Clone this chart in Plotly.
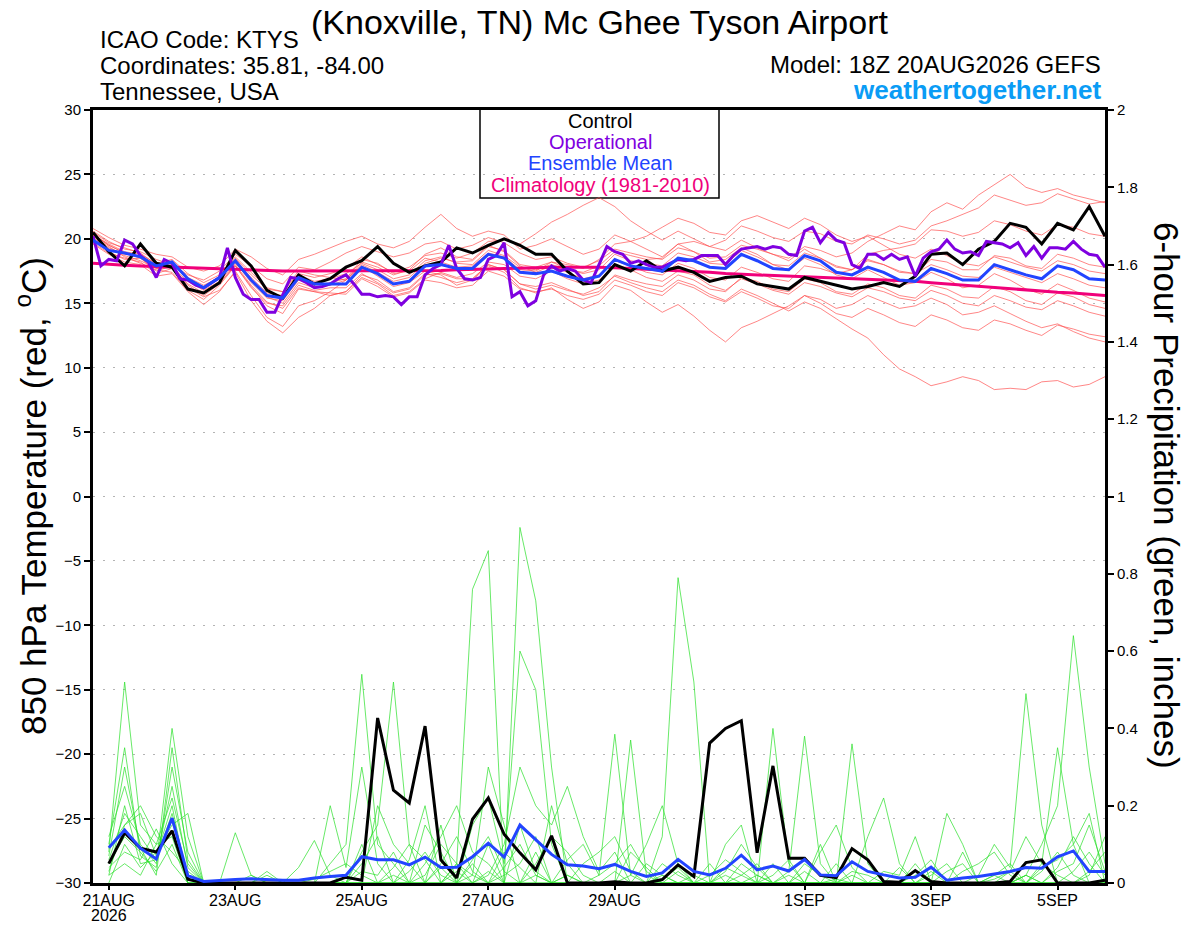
import pandas as pd
import plotly.graph_objects as go

# ---------------- data ----------------
t_times = pd.date_range("2026-08-20 18:00", periods=65, freq="6h")   # temperature valid times
p_times = pd.date_range("2026-08-21 00:00", periods=64, freq="6h")   # 6-h precip valid times
op_times = pd.date_range("2026-08-20 18:00", periods=129, freq="3h")  # operational (3-hourly)

control_t = [20.5, 19.0, 17.9, 19.6, 18.1, 17.8, 16.1, 15.8, 16.6,
             19.1, 17.9, 16.0, 15.4, 17.2, 16.5, 16.9, 17.8,
             18.3, 19.4, 18.1, 17.4, 17.9, 18.2, 19.3, 18.9,
             19.5, 20.0, 19.5, 18.8, 18.8, 17.5, 16.5, 16.6,
             18.0, 17.5, 18.3, 17.5, 17.8, 17.4, 16.7, 17.0,
             17.1, 16.5, 16.3, 16.1, 17.0, 16.7, 16.4, 16.1,
             16.3, 16.6, 16.3, 17.1, 18.8, 18.9, 18.0, 19.2,
             19.8, 21.2, 20.9, 19.6, 21.2, 20.7, 22.5, 20.2]

mean_t = [19.9, 19.1, 18.9, 18.6, 17.9, 18.2, 16.9, 16.2, 17.0,
          18.3, 16.8, 15.6, 15.4, 17.0, 16.5, 16.5, 16.5,
          17.8, 17.3, 16.5, 16.7, 17.9, 18.0, 17.7, 17.7,
          18.8, 18.5, 17.4, 17.3, 17.5, 17.1, 16.8, 17.1,
          18.4, 17.9, 17.7, 17.5, 18.5, 18.3, 17.8, 17.7,
          18.8, 18.3, 17.7, 17.6, 18.7, 18.3, 17.4, 17.2,
          17.8, 17.4, 16.8, 16.7, 17.7, 17.3, 16.8, 16.8,
          18.0, 17.6, 17.2, 16.9, 17.9, 17.6, 16.9, 16.8]

clim_t = [18.1, 18.0, 17.95, 17.9, 17.85, 17.8, 17.75, 17.7, 17.65,
          17.6, 17.6, 17.55, 17.5, 17.5, 17.5, 17.5, 17.5,
          17.5, 17.5, 17.5, 17.5, 17.55, 17.55, 17.6, 17.6,
          17.65, 17.7, 17.7, 17.75, 17.8, 17.8, 17.85, 17.8,
          17.75, 17.7, 17.65, 17.6, 17.5, 17.45, 17.4, 17.3,
          17.25, 17.2, 17.15, 17.1, 17.05, 17.0, 17.0, 16.9,
          16.85, 16.8, 16.75, 16.7, 16.6, 16.5, 16.4, 16.3,
          16.2, 16.1, 16.0, 15.9, 15.85, 15.8, 15.7, 15.6]

oper_t = [20.2, 17.9, 18.4, 18.3, 19.9, 19.6, 18.7, 18.2, 17.0, 18.4,
          18.1, 16.9, 16.8, 16.4, 16.2, 16.6, 17.0, 19.3, 17.0, 15.7,
          15.3, 15.3, 14.3, 14.3, 15.7, 17.0, 16.9, 16.6, 16.2, 16.3,
          16.5, 16.9, 17.2, 16.5, 15.7, 15.7, 15.5, 15.6, 15.5, 14.9,
          15.5, 15.5, 17.2, 17.7, 18.0, 19.5, 17.7, 16.9, 16.8, 17.0,
          18.4, 18.7, 19.7, 15.5, 15.9, 14.8, 15.2, 17.2, 17.9, 17.5,
          17.7, 17.5, 16.8, 16.6, 18.0, 19.4, 19.0, 18.8, 18.1, 18.3,
          18.0, 17.8, 17.8, 18.1, 18.4, 18.3, 18.4, 18.7, 18.7, 18.7,
          18.0, 18.7, 19.2, 19.3, 19.4, 19.2, 19.4, 19.3, 18.8, 18.7,
          20.6, 20.9, 19.7, 20.5, 19.9, 19.7, 18.0, 17.7, 18.8, 18.8,
          18.4, 18.8, 18.4, 18.6, 17.1, 18.5, 19.0, 19.2, 19.9, 19.2,
          18.9, 19.0, 18.7, 19.8, 19.7, 19.6, 19.3, 19.7, 18.7, 19.4,
          18.5, 19.3, 19.3, 19.2, 19.8, 19.2, 18.8, 18.7, 17.8]

member_t1 = [20.6, 19.8, 19.2, 19.0, 18.4, 18.0, 17.2, 16.8, 17.5,
             18.8, 17.9, 16.9, 16.5, 17.8, 17.6, 18.2, 18.9,
             19.4, 19.0, 18.6, 18.9, 19.6, 19.8, 19.2, 19.5,
             20.1, 19.7, 18.9, 18.4, 18.6, 18.1, 17.8, 18.3,
             19.2, 18.9, 18.6, 18.4, 19.3, 19.0, 18.5, 18.6,
             19.5, 19.2, 18.8, 18.5, 19.4, 19.1, 18.6, 18.9,
             19.8, 20.4, 21.0, 20.7, 22.1, 22.8, 22.3, 23.4,
             24.2, 25.0, 24.0, 23.6, 23.9, 23.4, 23.1, 22.8]
member_t2 = [20.2, 19.4, 18.6, 18.1, 17.6, 17.4, 16.0, 15.3, 16.4,
             17.9, 16.3, 14.8, 14.2, 16.1, 15.9, 15.6, 15.9,
             17.2, 16.8, 15.9, 16.2, 17.3, 17.0, 16.6, 16.9,
             18.0, 17.6, 16.5, 16.1, 16.4, 16.0, 15.7, 16.2,
             17.1, 16.6, 16.2, 15.9, 16.8, 16.4, 15.7, 15.2,
             16.1, 15.6, 15.0, 14.4, 15.1, 14.6, 13.8, 13.0,
             12.3, 11.0, 9.9, 9.3, 8.6, 8.9, 9.3, 9.0,
             8.3, 8.4, 8.3, 8.9, 9.0, 8.5, 8.7, 9.3]
member_t3 = [19.6, 18.8, 18.2, 18.0, 17.1, 17.3, 15.9, 14.9, 15.9,
             17.5, 15.6, 13.9, 13.2, 14.8, 15.2, 15.9, 16.8,
             17.9, 17.1, 16.3, 16.6, 17.5, 17.2, 16.4, 16.8,
             17.9, 17.4, 16.2, 15.8, 16.2, 15.3, 14.6, 15.1,
             16.4, 16.0, 15.1, 14.3, 14.9, 14.0, 12.9, 12.0,
             13.1, 13.6, 14.2, 14.8, 15.6, 15.3, 14.6, 14.9,
             15.6, 15.1, 14.6, 14.8, 15.4, 14.9, 14.1, 14.3,
             14.8, 14.2, 13.6, 13.1, 13.4, 12.8, 12.3, 12.0]
member_t4 = [20.8, 20.1, 19.5, 19.2, 18.8, 18.6, 17.8, 17.5, 17.9,
             19.2, 18.6, 17.7, 17.2, 18.4, 18.8, 19.3, 19.8,
             20.2, 19.6, 19.3, 19.8, 20.9, 21.9, 20.8, 20.2,
             20.6, 20.3, 19.2, 19.5, 20.0, 19.4, 18.8, 19.2,
             20.3, 19.8, 19.2, 18.6, 19.6, 19.0, 18.2, 18.4,
             19.3, 18.8, 18.0, 17.6, 18.5, 18.0, 17.2, 16.9,
             17.6, 17.0, 16.4, 16.6, 17.4, 16.9, 16.2, 16.4,
             17.3, 16.8, 16.1, 15.7, 16.5, 16.0, 15.4, 15.1]
member_t5 = [20.3, 19.6, 19.0, 18.8, 18.1, 18.4, 17.3, 16.6, 17.2,
             18.6, 17.4, 16.2, 15.9, 17.3, 17.0, 17.3, 17.7,
             18.6, 18.0, 17.4, 17.8, 18.7, 18.9, 18.5, 18.9,
             19.8, 19.9, 19.6, 20.4, 21.3, 21.9, 22.6, 23.2,
             22.5, 21.4, 20.6, 19.9, 20.6, 20.0, 19.4, 19.1,
             19.9, 19.3, 18.8, 18.3, 19.2, 18.5, 17.9, 17.6,
             18.4, 18.0, 17.5, 17.3, 18.0, 17.6, 17.1, 17.0,
             17.8, 17.4, 17.0, 16.6, 17.3, 16.9, 16.4, 16.2]
member_t6 = [19.9, 19.0, 18.4, 18.5, 17.5, 17.9, 16.2, 15.5, 16.0,
             17.4, 15.2, 13.6, 12.7, 13.9, 14.6, 15.6, 15.9,
             17.0, 16.5, 15.6, 15.9, 16.9, 17.4, 17.0, 17.3,
             18.2, 18.0, 17.1, 16.9, 17.5, 16.9, 16.5, 16.8,
             17.9, 17.6, 17.0, 16.7, 17.5, 17.2, 16.4, 16.0,
             16.9, 16.5, 16.0, 15.7, 16.6, 16.3, 15.8, 15.5,
             16.2, 15.9, 15.4, 15.2, 16.0, 15.6, 15.0, 14.8,
             15.6, 15.2, 14.7, 14.5, 15.2, 14.8, 14.3, 14.0]
member_t7 = [20.5, 19.7, 19.3, 18.9, 18.0, 18.2, 17.0, 16.4, 17.0,
             18.4, 17.0, 15.8, 15.6, 17.2, 16.7, 16.9, 17.3,
             18.1, 17.6, 16.9, 17.2, 18.3, 18.6, 18.1, 18.0,
             19.1, 18.7, 17.8, 17.6, 18.0, 17.6, 17.4, 17.9,
             19.0, 18.7, 18.4, 18.5, 19.6, 19.8, 19.4, 19.9,
             21.0, 20.6, 20.1, 19.8, 20.6, 20.4, 19.8, 19.6,
             20.3, 20.0, 19.6, 19.9, 21.0, 21.4, 21.9, 22.4,
             23.4, 23.0, 22.6, 22.8, 23.5, 23.1, 22.7, 22.9]
member_t8 = [20.0, 19.2, 18.7, 18.3, 17.7, 17.8, 16.5, 15.8, 16.6,
             17.9, 16.2, 15.0, 14.8, 16.4, 16.0, 16.2, 16.2,
             17.3, 16.6, 15.8, 16.1, 17.2, 17.3, 16.9, 16.9,
             18.0, 17.6, 16.5, 16.3, 16.6, 16.1, 15.6, 15.9,
             17.2, 16.8, 16.5, 16.3, 17.2, 16.8, 16.1, 15.9,
             17.0, 16.7, 16.1, 15.9, 16.9, 16.6, 15.9, 15.7,
             16.5, 16.2, 15.6, 15.4, 16.4, 16.1, 15.5, 15.4,
             16.3, 15.9, 15.2, 14.9, 15.8, 15.5, 14.9, 14.6]
member_t9 = [20.4, 19.5, 18.9, 18.6, 17.8, 18.1, 16.8, 16.1, 16.9,
             18.2, 16.6, 15.4, 15.2, 16.8, 16.4, 16.6, 16.9,
             18.4, 18.1, 17.3, 17.5, 18.5, 18.2, 17.8, 17.9,
             18.9, 18.6, 17.6, 17.5, 18.2, 18.0, 17.7, 18.4,
             19.6, 19.8, 20.2, 20.9, 21.6, 21.2, 20.5, 20.3,
             21.4, 21.8, 21.3, 20.8, 21.6, 21.1, 20.3, 19.8,
             20.2, 19.5, 18.8, 18.5, 19.2, 18.7, 18.1, 17.9,
             18.6, 18.2, 17.8, 17.5, 18.3, 18.0, 17.5, 17.3]
member_t10 = [19.7, 18.9, 18.5, 18.2, 17.3, 17.7, 16.4, 15.6, 16.5,
              18.0, 16.4, 15.1, 14.6, 16.2, 15.9, 15.8, 15.7,
              16.9, 16.3, 15.5, 15.8, 16.8, 16.6, 16.2, 16.4,
              17.5, 17.1, 16.1, 15.9, 16.1, 15.6, 15.3, 15.7,
              16.8, 16.4, 15.9, 15.6, 16.6, 16.2, 15.5, 15.1,
              15.9, 15.4, 14.8, 14.6, 15.6, 15.0, 14.2, 13.9,
              14.6, 14.1, 13.5, 13.2, 14.1, 13.7, 13.1, 12.9,
              13.7, 13.4, 12.9, 12.5, 13.3, 13.0, 12.6, 12.4]
member_t11 = [20.1, 19.3, 18.8, 18.7, 17.9, 18.3, 16.9, 16.2, 17.1,
              18.5, 17.2, 16.1, 15.9, 17.5, 17.2, 17.0, 16.8,
              18.0, 17.4, 16.7, 17.0, 18.1, 18.5, 18.2, 18.3,
              19.4, 19.1, 18.0, 17.8, 18.2, 17.7, 17.3, 17.6,
              18.8, 18.3, 18.1, 17.9, 18.9, 18.6, 18.1, 18.0,
              19.1, 18.6, 18.0, 17.9, 18.9, 18.5, 17.8, 17.6,
              18.3, 18.0, 17.4, 17.3, 18.4, 18.2, 17.6, 17.6,
              18.7, 18.5, 17.9, 17.7, 18.8, 18.5, 18.0, 17.8]
member_t12 = [20.3, 19.5, 18.9, 18.5, 17.7, 17.8, 16.7, 16.0, 16.7,
              18.1, 16.8, 15.5, 15.0, 16.6, 16.2, 16.4, 16.8,
              18.2, 17.8, 17.2, 17.6, 18.8, 19.3, 18.6, 18.4,
              19.5, 19.0, 17.9, 17.4, 17.9, 17.4, 16.9, 17.2,
              18.3, 17.9, 17.4, 17.2, 18.1, 17.7, 17.0, 16.8,
              17.8, 17.4, 16.9, 16.7, 17.9, 17.7, 17.3, 17.6,
              18.8, 19.1, 19.3, 19.6, 20.7, 20.6, 20.2, 20.5,
              21.4, 21.1, 20.6, 20.3, 21.1, 20.9, 20.4, 20.2]

control_p = [0.05, 0.13, 0.09, 0.08, 0.135, 0.01, 0.0, 0.0,
             0.0, 0.0, 0.0, 0.0, 0.0, 0.0, 0.0, 0.015,
             0.007, 0.427, 0.24, 0.207, 0.406, 0.06, 0.013, 0.165,
             0.22, 0.126, 0.078, 0.034, 0.122, 0.0, 0.0, 0.0,
             0.003, 0.0, 0.0, 0.009, 0.047, 0.017, 0.362, 0.40,
             0.42, 0.078, 0.303, 0.064, 0.064, 0.02, 0.014, 0.089,
             0.06, 0.004, 0.002, 0.032, 0.004, 0.0, 0.0, 0.0,
             0.0, 0.004, 0.053, 0.06, 0.0, 0.0, 0.0, 0.007]

mean_p = [0.091, 0.137, 0.090, 0.062, 0.168, 0.019, 0.004, 0.007,
          0.009, 0.011, 0.009, 0.007, 0.007, 0.013, 0.017, 0.020,
          0.068, 0.060, 0.060, 0.047, 0.067, 0.040, 0.041, 0.068,
          0.103, 0.067, 0.150, 0.111, 0.074, 0.047, 0.044, 0.037,
          0.048, 0.030, 0.017, 0.026, 0.061, 0.030, 0.021, 0.038,
          0.072, 0.034, 0.044, 0.031, 0.061, 0.021, 0.019, 0.055,
          0.030, 0.021, 0.013, 0.015, 0.041, 0.007, 0.013, 0.017,
          0.023, 0.030, 0.040, 0.038, 0.068, 0.083, 0.030, 0.030]

member_p1 = [0.05, 0.12, 0.08, 0.03, 0.10, 0.00, 0.00, 0.00,
             0.00, 0.02, 0.00, 0.00, 0.00, 0.01, 0.03, 0.05,
             0.02, 0.00, 0.04, 0.10, 0.06, 0.00, 0.05, 0.76,
             0.86, 0.00, 0.00, 0.05, 0.12, 0.08, 0.02, 0.00,
             0.03, 0.00, 0.00, 0.01, 0.04, 0.00, 0.00, 0.00,
             0.02, 0.05, 0.00, 0.00, 0.03, 0.00, 0.01, 0.00,
             0.00, 0.00, 0.00, 0.02, 0.06, 0.00, 0.00, 0.00,
             0.01, 0.03, 0.00, 0.05, 0.02, 0.00, 0.00, 0.01]
member_p2 = [0.02, 0.20, 0.05, 0.06, 0.18, 0.02, 0.00, 0.00,
             0.00, 0.00, 0.00, 0.00, 0.00, 0.00, 0.00, 0.00,
             0.05, 0.12, 0.00, 0.03, 0.08, 0.02, 0.00, 0.00,
             0.03, 0.00, 0.92, 0.73, 0.30, 0.00, 0.00, 0.02,
             0.05, 0.10, 0.03, 0.00, 0.00, 0.02, 0.00, 0.00,
             0.00, 0.00, 0.02, 0.06, 0.00, 0.00, 0.00, 0.03,
             0.02, 0.00, 0.00, 0.00, 0.00, 0.00, 0.03, 0.05,
             0.08, 0.02, 0.00, 0.00, 0.04, 0.12, 0.05, 0.00]
member_p3 = [0.08, 0.52, 0.15, 0.10, 0.22, 0.05, 0.00, 0.00,
             0.00, 0.00, 0.00, 0.00, 0.00, 0.00, 0.00, 0.00,
             0.00, 0.00, 0.02, 0.00, 0.00, 0.05, 0.12, 0.03,
             0.00, 0.04, 0.10, 0.02, 0.00, 0.00, 0.05, 0.08,
             0.12, 0.03, 0.00, 0.12, 0.79, 0.52, 0.00, 0.00,
             0.05, 0.02, 0.00, 0.00, 0.00, 0.08, 0.15, 0.04,
             0.00, 0.00, 0.00, 0.00, 0.02, 0.05, 0.00, 0.00,
             0.00, 0.00, 0.02, 0.00, 0.00, 0.03, 0.08, 0.02]
member_p4 = [0.12, 0.25, 0.10, 0.05, 0.40, 0.12, 0.00, 0.00,
             0.00, 0.00, 0.00, 0.00, 0.00, 0.00, 0.05, 0.10,
             0.54, 0.10, 0.05, 0.00, 0.02, 0.10, 0.05, 0.02,
             0.00, 0.08, 0.04, 0.00, 0.00, 0.02, 0.00, 0.00,
             0.00, 0.00, 0.05, 0.02, 0.00, 0.00, 0.00, 0.03,
             0.10, 0.04, 0.00, 0.02, 0.00, 0.00, 0.00, 0.00,
             0.00, 0.00, 0.00, 0.05, 0.00, 0.00, 0.00, 0.00,
             0.00, 0.00, 0.02, 0.10, 0.20, 0.64, 0.30, 0.05]
member_p5 = [0.03, 0.15, 0.20, 0.12, 0.08, 0.03, 0.00, 0.00,
             0.13, 0.02, 0.00, 0.00, 0.00, 0.00, 0.00, 0.00,
             0.08, 0.15, 0.52, 0.10, 0.00, 0.00, 0.05, 0.00,
             0.10, 0.00, 0.00, 0.00, 0.00, 0.02, 0.00, 0.00,
             0.00, 0.08, 0.04, 0.00, 0.00, 0.00, 0.00, 0.02,
             0.00, 0.00, 0.00, 0.00, 0.05, 0.02, 0.00, 0.00,
             0.00, 0.03, 0.02, 0.12, 0.00, 0.00, 0.00, 0.02,
             0.10, 0.04, 0.49, 0.15, 0.00, 0.00, 0.03, 0.08]
member_p6 = [0.10, 0.35, 0.07, 0.04, 0.30, 0.08, 0.00, 0.00,
             0.00, 0.00, 0.03, 0.00, 0.00, 0.00, 0.00, 0.00,
             0.00, 0.00, 0.00, 0.06, 0.20, 0.00, 0.03, 0.00,
             0.00, 0.02, 0.05, 0.12, 0.00, 0.06, 0.10, 0.02,
             0.385, 0.02, 0.00, 0.05, 0.02, 0.00, 0.00, 0.04,
             0.02, 0.00, 0.40, 0.05, 0.00, 0.00, 0.00, 0.00,
             0.00, 0.00, 0.00, 0.00, 0.03, 0.00, 0.00, 0.00,
             0.02, 0.05, 0.00, 0.03, 0.08, 0.02, 0.00, 0.00]
member_p7 = [0.06, 0.18, 0.12, 0.06, 0.25, 0.04, 0.00, 0.00,
             0.00, 0.00, 0.00, 0.00, 0.04, 0.11, 0.02, 0.00,
             0.03, 0.02, 0.08, 0.00, 0.00, 0.04, 0.00, 0.15,
             0.22, 0.05, 0.60, 0.50, 0.10, 0.00, 0.00, 0.00,
             0.00, 0.37, 0.02, 0.00, 0.03, 0.00, 0.05, 0.00,
             0.00, 0.02, 0.00, 0.03, 0.38, 0.05, 0.00, 0.00,
             0.00, 0.00, 0.04, 0.00, 0.00, 0.03, 0.05, 0.00,
             0.00, 0.00, 0.02, 0.00, 0.03, 0.05, 0.15, 0.03]
member_p8 = [0.00, 0.10, 0.04, 0.08, 0.15, 0.18, 0.00, 0.00,
             0.00, 0.00, 0.00, 0.00, 0.00, 0.00, 0.20, 0.04,
             0.30, 0.05, 0.00, 0.00, 0.15, 0.08, 0.00, 0.05,
             0.00, 0.00, 0.00, 0.00, 0.20, 0.05, 0.00, 0.00,
             0.00, 0.00, 0.00, 0.02, 0.00, 0.00, 0.00, 0.00,
             0.00, 0.00, 0.05, 0.00, 0.00, 0.10, 0.00, 0.36,
             0.05, 0.00, 0.00, 0.00, 0.00, 0.00, 0.00, 0.00,
             0.00, 0.00, 0.00, 0.04, 0.06, 0.10, 0.18, 0.00]
member_p9 = [0.04, 0.08, 0.06, 0.14, 0.05, 0.00, 0.00, 0.00,
             0.00, 0.00, 0.00, 0.00, 0.00, 0.00, 0.00, 0.00,
             0.00, 0.20, 0.10, 0.05, 0.00, 0.15, 0.00, 0.02,
             0.30, 0.15, 0.00, 0.08, 0.00, 0.00, 0.00, 0.00,
             0.00, 0.02, 0.10, 0.20, 0.05, 0.00, 0.00, 0.00,
             0.00, 0.00, 0.00, 0.00, 0.00, 0.00, 0.00, 0.00,
             0.12, 0.22, 0.05, 0.00, 0.00, 0.00, 0.08, 0.00,
             0.02, 0.00, 0.00, 0.00, 0.00, 0.00, 0.02, 0.12]
member_p10 = [0.07, 0.30, 0.09, 0.02, 0.35, 0.06, 0.00, 0.00,
              0.00, 0.00, 0.00, 0.00, 0.00, 0.00, 0.00, 0.00,
              0.00, 0.00, 0.00, 0.00, 0.05, 0.12, 0.20, 0.08,
              0.05, 0.00, 0.15, 0.03, 0.00, 0.00, 0.00, 0.00,
              0.00, 0.00, 0.00, 0.00, 0.00, 0.00, 0.00, 0.10,
              0.15, 0.00, 0.00, 0.00, 0.00, 0.00, 0.00, 0.02,
              0.00, 0.00, 0.00, 0.00, 0.00, 0.18, 0.10, 0.00,
              0.00, 0.00, 0.00, 0.00, 0.00, 0.00, 0.00, 0.00]
member_p11 = [0.02, 0.05, 0.02, 0.10, 0.12, 0.00, 0.00, 0.00,
              0.00, 0.00, 0.02, 0.00, 0.00, 0.00, 0.00, 0.00,
              0.10, 0.00, 0.00, 0.00, 0.00, 0.00, 0.00, 0.00,
              0.02, 0.10, 0.30, 0.20, 0.15, 0.25, 0.12, 0.03,
              0.08, 0.00, 0.00, 0.00, 0.00, 0.00, 0.02, 0.06,
              0.03, 0.00, 0.00, 0.00, 0.00, 0.00, 0.05, 0.00,
              0.00, 0.00, 0.00, 0.00, 0.00, 0.00, 0.00, 0.00,
              0.00, 0.00, 0.00, 0.00, 0.00, 0.00, 0.00, 0.00]
member_p12 = [0.09, 0.15, 0.18, 0.07, 0.20, 0.00, 0.00, 0.00,
              0.00, 0.00, 0.00, 0.00, 0.00, 0.00, 0.00, 0.00,
              0.00, 0.00, 0.00, 0.00, 0.00, 0.00, 0.00, 0.06,
              0.12, 0.03, 0.00, 0.02, 0.00, 0.00, 0.00, 0.00,
              0.00, 0.00, 0.00, 0.00, 0.00, 0.00, 0.00, 0.00,
              0.00, 0.00, 0.00, 0.00, 0.00, 0.00, 0.00, 0.00,
              0.00, 0.00, 0.00, 0.00, 0.00, 0.00, 0.00, 0.00,
              0.00, 0.03, 0.12, 0.05, 0.35, 0.10, 0.00, 0.00]

temp_members = [member_t1, member_t2, member_t3, member_t4, member_t5, member_t6,
                member_t7, member_t8, member_t9, member_t10, member_t11, member_t12]
precip_members = [member_p1, member_p2, member_p3, member_p4, member_p5, member_p6,
                  member_p7, member_p8, member_p9, member_p10, member_p11, member_p12]

x_tick_vals = ["2026-08-21", "2026-08-23", "2026-08-25", "2026-08-27",
               "2026-08-29", "2026-09-01", "2026-09-03", "2026-09-05"]
x_tick_text = ["21AUG", "23AUG", "25AUG", "27AUG", "29AUG", "1SEP", "3SEP", "5SEP"]
year_label = "2026"
y2_tick_vals = [0, 0.2, 0.4, 0.6, 0.8, 1.0, 1.2, 1.4, 1.6, 1.8, 2.0]
y2_tick_text = ["0", "0.2", "0.4", "0.6", "0.8", "1", "1.2", "1.4", "1.6", "1.8", "2"]

# ---------------- styles ----------------
FONT = "Liberation Sans, Arial, Helvetica, sans-serif"
RED = "rgba(255,75,75,0.85)"
GREEN = "rgba(45,225,45,0.9)"
BLACK = "#000000"
PURPLE = "#7f00e0"
BLUE = "#2244ff"
PINK = "#f0007a"

fig = go.Figure()

for m in precip_members:
    fig.add_trace(go.Scatter(x=p_times, y=m, yaxis="y2", mode="lines",
                             line=dict(color=GREEN, width=0.8), hoverinfo="skip"))
for m in temp_members:
    fig.add_trace(go.Scatter(x=t_times, y=m, mode="lines",
                             line=dict(color=RED, width=0.8), hoverinfo="skip"))

fig.add_trace(go.Scatter(x=t_times, y=clim_t, mode="lines", line=dict(color=PINK, width=3)))
fig.add_trace(go.Scatter(x=p_times, y=control_p, yaxis="y2", mode="lines", line=dict(color=BLACK, width=3)))
fig.add_trace(go.Scatter(x=p_times, y=mean_p, yaxis="y2", mode="lines", line=dict(color=BLUE, width=3)))
fig.add_trace(go.Scatter(x=t_times, y=control_t, mode="lines", line=dict(color=BLACK, width=3)))
fig.add_trace(go.Scatter(x=op_times, y=oper_t, mode="lines", line=dict(color=PURPLE, width=3)))
fig.add_trace(go.Scatter(x=t_times, y=mean_t, mode="lines", line=dict(color=BLUE, width=3)))

# Full-window figure; the page's default body margin is removed after plotting.
PL, PR, PT, PB = 93, 1105, 110, 883          # plot area in the 1200x927 window
W, H = 1200, 927
L, T = PL, PT
R = W - PR
B = H - PB
pw, ph = PR - PL, PB - PT


def px(x):
    return (x - PL) / pw


def py(y):
    return (PB - y) / ph


annotations = [
    dict(text="(Knoxville, TN) Mc Ghee Tyson Airport", x=px(600), y=py(22), font=dict(size=34)),
    dict(text="ICAO Code: KTYS", x=px(98), y=py(40), xanchor="left", font=dict(size=24)),
    dict(text="Coordinates: 35.81, -84.00", x=px(98), y=py(66), xanchor="left", font=dict(size=24)),
    dict(text="Tennessee, USA", x=px(98), y=py(92), xanchor="left", font=dict(size=24)),
    dict(text="Model: 18Z 20AUG2026 GEFS", x=px(1103), y=py(64), xanchor="right", font=dict(size=24)),
    dict(text="<b>weathertogether.net</b>", x=px(1103), y=py(90), xanchor="right",
         font=dict(size=26, color="#0a9cf5")),
    dict(text="850 hPa Temperature (red, <sup>o</sup>C)", x=px(31), y=py(496), textangle=-90,
         font=dict(size=35)),
    dict(text="6-hour Precipitation (green, inches)", x=px(1167), y=py(495), textangle=90,
         font=dict(size=35)),
    dict(text="Control", x=px(600), y=py(121), font=dict(size=20, color=BLACK)),
    dict(text="Operational", x=px(600), y=py(142), font=dict(size=20, color=PURPLE)),
    dict(text="Ensemble Mean", x=px(600), y=py(163), font=dict(size=20, color=BLUE)),
    dict(text="Climatology (1981-2010)", x=px(600), y=py(185), font=dict(size=20, color=PINK)),
    dict(text=year_label, x=px(109), y=py(915), font=dict(size=16)),
]
for a in annotations:
    a.setdefault("xanchor", "center")
    a.update(xref="paper", yref="paper", yanchor="middle", showarrow=False)
    a["font"].setdefault("color", "#000000")
    a["font"]["family"] = FONT

fig.update_layout(
    width=W, height=H, autosize=False,
    margin=dict(l=L, r=R, t=T, b=B, pad=0),
    paper_bgcolor="white", plot_bgcolor="white",
    showlegend=False,
    font=dict(family=FONT, size=15, color="black"),
    annotations=annotations,
    shapes=[dict(type="rect", xref="paper", yref="paper",
                 x0=px(480), x1=px(719), y0=py(198), y1=py(108),
                 line=dict(color="black", width=1.5), fillcolor="white", layer="below")],
    xaxis=dict(type="date", range=["2026-08-20 18:00", "2026-09-05 18:00"],
               tickvals=x_tick_vals, ticktext=x_tick_text,
               ticks="outside", ticklen=4, tickwidth=1.5, tickcolor="black",
               ticklabelstandoff=-3,
               showgrid=False, zeroline=False, automargin=False,
               showline=True, linewidth=3, linecolor="black", mirror=True,
               tickfont=dict(size=16, family=FONT)),
    yaxis=dict(range=[-30, 30], dtick=5, tick0=-30,
               ticks="outside", ticklen=6, tickwidth=1.5, tickcolor="black",
               showgrid=True, gridcolor="#b4b4b4", griddash="2px,8px", gridwidth=1,
               zeroline=False, automargin=False,
               showline=True, linewidth=3, linecolor="black", mirror=True,
               tickfont=dict(size=15, family=FONT)),
    yaxis2=dict(range=[0, 2], overlaying="y", side="right",
                tickvals=y2_tick_vals, ticktext=y2_tick_text,
                ticks="outside", ticklen=6, tickwidth=1.5, tickcolor="black",
                showgrid=False, zeroline=False, automargin=False,
                showline=True, linewidth=3, linecolor="black",
                tickfont=dict(size=15, family=FONT)),
)

fig.write_html("out.html",
               config={"displayModeBar": False},
               post_script="document.body.style.margin='0';document.body.style.overflow='hidden';")
